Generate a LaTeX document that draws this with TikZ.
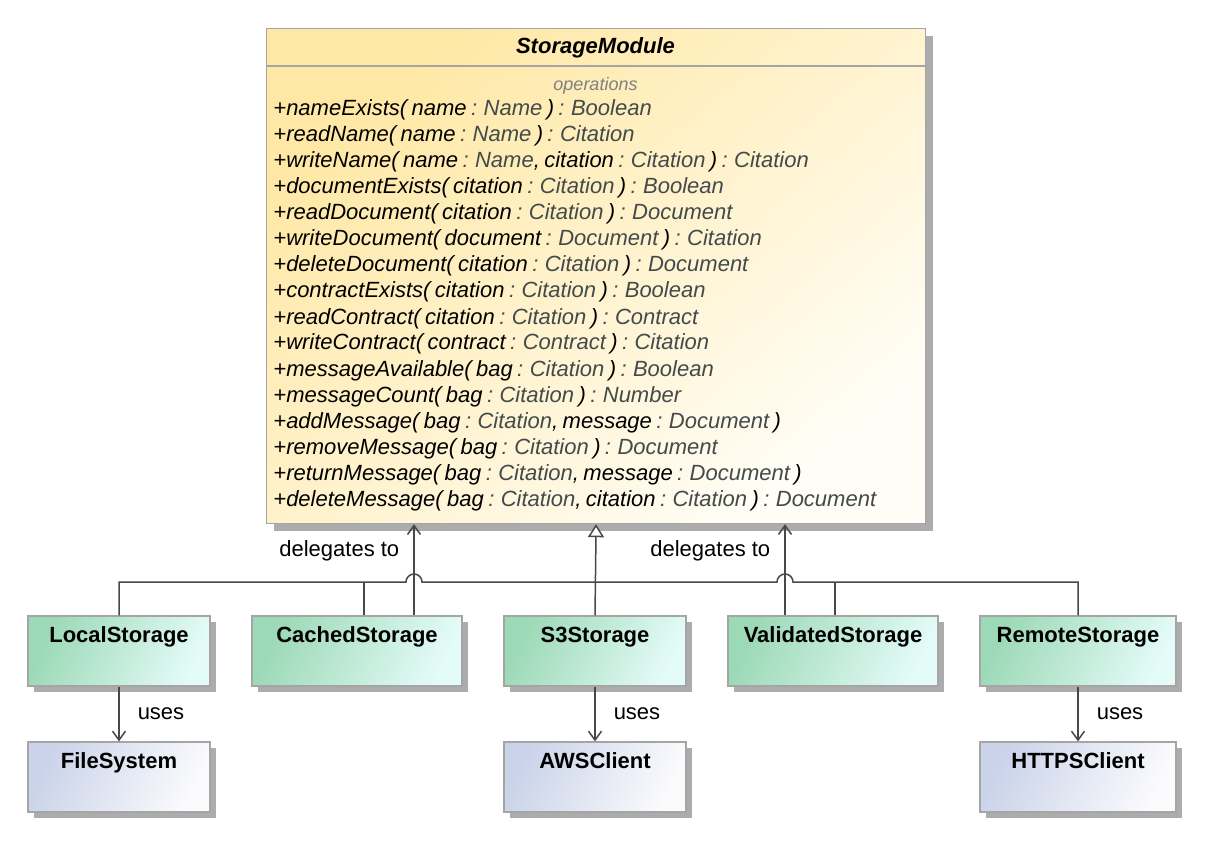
\documentclass[tikz,border=0pt]{standalone}
\usepackage{fontspec}
\setmainfont{Liberation Sans}
\usepackage{xcolor}
\usepackage{tikz}
\usetikzlibrary{arrows.meta,positioning,shadows}
\definecolor{modtop}{RGB}{255,232,165}
\definecolor{modbot}{RGB}{255,253,246}
\definecolor{implleft}{RGB}{156,217,182}
\definecolor{implright}{RGB}{228,251,248}
\definecolor{libleft}{RGB}{202,211,233}
\definecolor{libright}{RGB}{251,251,253}
\definecolor{boxedge}{RGB}{165,165,165}
\definecolor{linkgray}{RGB}{72,72,72}
\definecolor{typegray}{RGB}{66,74,74}
\definecolor{shadegray}{RGB}{172,172,172}
\newcommand{\tp}[1]{\textcolor{typegray}{#1}}

\begin{document}
\begin{tikzpicture}[
  x=0.5pt, y=-0.5pt,
  modbox/.style={rectangle, draw=boxedge, line width=0.6pt, inner sep=0pt,
                 top color=modtop, bottom color=modbot, shading angle=40,
                 general shadow={fill=shadegray, shadow xshift=3.5pt, shadow yshift=-3.5pt}},
  implbox/.style={rectangle, draw=boxedge, line width=0.6pt, inner sep=0pt,
                  minimum height=35pt, text height=13pt, text depth=22pt,
                  font=\bfseries, left color=implleft, right color=implright, shading angle=65,
                  general shadow={fill=shadegray, shadow xshift=3pt, shadow yshift=-3pt}},
  libbox/.style={implbox, left color=libleft, right color=libright, shading angle=65},
  link/.style={draw=linkgray, line width=0.75pt},
  uses/.style={link, -{Straight Barb[length=4.5pt,width=6.5pt]}},
  inherit/.style={link, -{Triangle[length=6.5pt,width=8pt,fill=white]}},
  note/.style={inner sep=0pt}
]
\fontsize{11}{13}\selectfont
\path[use as bounding box, fill=white] (0,0) rectangle (1208,844);

% module
\node[modbox, anchor=north west, minimum width=329.5pt, minimum height=247.5pt] (mod) at (266,28) {};
\node[note, font=\bfseries\itshape, anchor=base] (hdr) at (595.5,54) {StorageModule};
\draw[draw=boxedge, line width=0.6pt] ([yshift=-19pt]mod.north west) -- ([yshift=-19pt]mod.north east);
\node[note, font=\fontsize{9}{11}\selectfont\itshape, text=gray, anchor=base] (opsh) at (595.5,91) {operations};
\foreach \op [count=\i] in {
  {+nameExists( name \tp{: Name} ) \tp{: Boolean}},
  {+readName( name \tp{: Name} ) \tp{: Citation}},
  {+writeName( name \tp{: Name}, citation \tp{: Citation} ) \tp{: Citation}},
  {+documentExists( citation \tp{: Citation} ) \tp{: Boolean}},
  {+readDocument( citation \tp{: Citation} ) \tp{: Document}},
  {+writeDocument( document \tp{: Document} ) \tp{: Citation}},
  {+deleteDocument( citation \tp{: Citation} ) \tp{: Document}},
  {+contractExists( citation \tp{: Citation} ) \tp{: Boolean}},
  {+readContract( citation \tp{: Citation} ) \tp{: Contract}},
  {+writeContract( contract \tp{: Contract} ) \tp{: Citation}},
  {+messageAvailable( bag \tp{: Citation} ) \tp{: Boolean}},
  {+messageCount( bag \tp{: Citation} ) \tp{: Number}},
  {+addMessage( bag \tp{: Citation}, message \tp{: Document} )},
  {+removeMessage( bag \tp{: Citation} ) \tp{: Document}},
  {+returnMessage( bag \tp{: Citation}, message \tp{: Document} )},
  {+deleteMessage( bag \tp{: Citation}, citation \tp{: Citation} ) \tp{: Document}}}
  \node[note, font=\itshape, anchor=base west] (op\i) at (273,{116+26*(\i-1)}) {\spaceskip=0.2em\op};

% implementations
\node[implbox, minimum width=91pt]  (lcl) at (119,651)  {LocalStorage};
\node[implbox, minimum width=105pt] (cch) at (357,651)  {CachedStorage};
\node[implbox, minimum width=91pt]  (s3)  at (595,651)  {S3Storage};
\node[implbox, minimum width=105pt] (val) at (833,651)  {ValidatedStorage};
\node[implbox, minimum width=98pt]  (rmt) at (1078,651) {RemoteStorage};

% clients
\node[libbox, minimum width=91pt] (fs)  at (119,777)  {FileSystem};
\node[libbox, minimum width=91pt] (aws) at (595,777)  {AWSClient};
\node[libbox, minimum width=98pt] (web) at (1078,777) {HTTPSClient};

% generalization tree
\coordinate (jA) at (414,582);
\coordinate (jB) at (785,582);
\draw[link] (lcl.north) -- (lcl.north |- jA) -- ([xshift=-4pt]jA)
  arc[start angle=180, end angle=0, radius=4pt] -- ([xshift=-4pt]jB)
  arc[start angle=180, end angle=0, radius=4pt] -- (rmt.north |- jB) -- (rmt.north);
\draw[link] ([xshift=3.5pt]cch.north) -- ([xshift=3.5pt]cch.north |- jA);
\draw[link] ([xshift=1pt]val.north) -- ([xshift=1pt]val.north |- jB);
\draw[inherit] (s3.north) -- (mod.south);

% delegation
\draw[uses] (cch.north -| jA) -- (mod.south -| jA)
  node[note, pos=0.71, left=7pt] (dg1) {delegates to};
\draw[uses] (val.north -| jB) -- (mod.south -| jB)
  node[note, pos=0.71, left=7pt] (dg2) {delegates to};

% dependencies
\draw[uses] (lcl.south) -- (fs.north) node[note, midway, right=9pt] (us1) {uses};
\draw[uses] (s3.south) -- (aws.north) node[note, midway, right=9pt] (us2) {uses};
\draw[uses] (rmt.south) -- (web.north) node[note, midway, right=9pt] (us3) {uses};
\end{tikzpicture}
\end{document}
